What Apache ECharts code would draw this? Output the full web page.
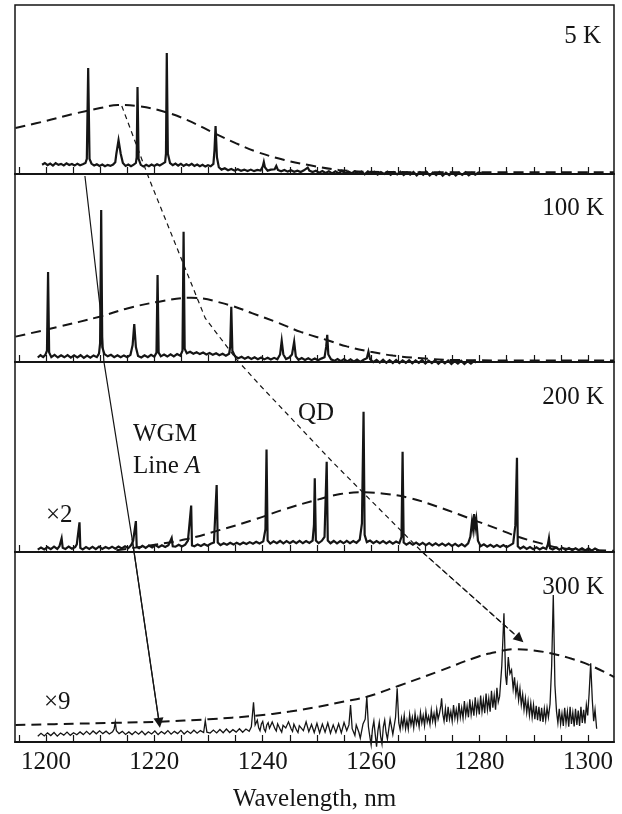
<!DOCTYPE html>
<html>
<head>
<meta charset="utf-8">
<script src="https://cdn.jsdelivr.net/npm/echarts@6/dist/echarts.min.js"></script>
<style>html,body{margin:0;padding:0;background:#fff}#c{width:622px;height:814px}</style>
</head>
<body>
<div id="c"></div>
<script>
const X_MIN = 1194.3, X_MAX = 1304.8;
const tickValues = [1195,1200,1205,1210,1215,1220,1225,1230,1235,1240,1245,1250,1255,1260,1265,1270,1275,1280,1285,1290,1295,1300];
const labelValues = [1200,1220,1240,1260,1280,1300];
const panelLabels = ['5 K','100 K','200 K','300 K'];

const spec5K = [[1199.3,5.5],[1199.8,6.5],[1200.3,5.2],[1200.8,6.2],[1201.3,5.0],[1201.8,6.4],[1202.3,5.4],[1202.8,6.0],[1203.3,5.1],[1203.8,6.3],[1204.3,5.3],[1204.8,5.9],[1205.3,5.0],[1205.8,6.1],[1206.3,5.2],[1206.8,5.8],[1207.3,6.5],
[1207.55,9],[1207.8,62.7],[1208.05,9],
[1208.4,6.2],[1208.9,5.0],[1209.4,5.8],[1209.9,4.8],[1210.4,5.6],[1210.9,4.6],[1211.4,5.4],[1211.9,4.8],[1212.4,5.6],[1212.8,7],
[1213.0,12],[1213.4,20],[1213.8,12],[1214.2,6.5],
[1214.7,4.8],[1215.2,5.6],[1215.7,4.6],[1216.2,5.5],[1216.6,6.5],
[1216.75,10],[1216.9,51.5],[1217.1,9],
[1217.5,5.4],[1218.0,4.4],[1218.5,5.4],[1219.0,4.6],[1219.5,5.6],[1220.0,4.8],[1220.5,5.8],[1221.0,5.0],[1221.5,6.0],[1222.0,7],
[1222.15,12],[1222.3,71.6],[1222.5,12],
[1222.9,6.5],[1223.4,5.2],[1223.9,6.2],[1224.4,5.0],[1224.9,6.0],[1225.4,4.8],[1225.9,5.8],[1226.4,5.0],[1226.9,6.0],[1227.4,4.8],[1227.9,5.6],[1228.4,4.6],[1228.9,5.4],[1229.4,4.4],[1229.9,5.2],[1230.4,4.6],[1230.9,6],
[1231.1,14],[1231.3,28.4],[1231.55,10],[1231.9,4.0],
[1232.4,2.6],[1233,3.4],[1233.6,2.2],[1234.2,3.0],[1234.8,2.0],[1235.4,2.8],[1236,1.9],[1236.6,2.6],[1237.2,1.8],[1237.8,2.6],[1238.4,1.7],[1239,2.4],[1239.6,2.0],
[1240.0,4.5],[1240.2,7.1],[1240.4,4.0],[1240.9,2.0],[1241.5,2.6],[1242.2,2.8],[1242.5,4.8],[1242.8,2.4],[1243.4,1.6],[1244,2.4],[1244.6,1.4],[1245.2,2.2],[1245.8,1.3],[1246.4,2.0],[1247,1.2],[1247.6,2.2],[1248.3,3.8],[1248.6,2.0],[1249.2,1.2],[1249.8,1.9],[1250.4,0.8],[1251,1.8],[1251.6,0.6],[1252.2,1.6],[1252.8,0.4],[1253.4,1.6],[1254,0.5],[1254.6,1.9],[1255.2,0.3],[1255.8,1.5],[1256.4,0.5],[1257,1.6],[1257.6,0.2],[1258.2,1.4],[1258.8,-0.2],[1259.4,1.5],[1260,0.2],[1260.6,1.3],[1261.2,-0.3],[1261.8,1.2],[1262.4,0.1],[1263,1.4],[1263.6,-0.5],[1264.2,1.1],[1264.8,-0.2],[1265.4,1.3],[1266,-0.6],[1266.6,1.0],[1267.2,-0.4],[1267.8,1.2],[1268.4,-0.8],[1269,1.1],[1269.6,-0.5],[1270.2,1.3],[1270.8,-0.9],[1271.4,0.9],[1272,-0.6],[1272.6,1.2],[1273.2,-1.0],[1273.8,0.8],[1274.4,-0.7],[1275,1.0],[1275.6,-0.9],[1276.2,0.8],[1276.8,-0.5],[1277.4,1.0],[1278,-0.8],[1278.6,0.7],[1279.2,-0.4],[1279.8,0.9],[1280.5,0.2]];

const spec100K = [[1198.5,2.4],[1199.0,3.6],[1199.5,2.6],[1199.9,3.8],[1200.2,6],[1200.4,47.9],[1200.6,5],[1201.0,2.6],[1201.6,3.8],[1202.2,2.4],[1202.8,3.6],[1203.4,2.5],[1204.0,3.7],[1204.6,2.3],[1205.2,3.5],[1205.8,2.4],[1206.4,3.6],[1207.0,2.2],[1207.6,3.4],[1208.2,2.3],[1208.8,3.5],[1209.4,2.6],[1209.8,4.5],[1210.0,10],[1210.2,80.9],[1210.4,8],[1210.8,4.2],[1211.4,3.0],[1212.0,3.8],[1212.6,2.6],[1213.2,3.6],[1213.8,2.5],[1214.4,3.5],[1215.0,2.6],[1215.6,3.8],[1216.0,9],[1216.3,20.2],[1216.6,8],[1217.0,3.2],[1217.6,2.4],[1218.2,3.6],[1218.8,2.6],[1219.4,3.8],[1220.0,2.8],[1220.4,5],[1220.6,46.3],[1220.8,5],[1221.2,3.0],[1221.8,4.0],[1222.4,2.9],[1223.0,4.1],[1223.6,3.0],[1224.2,4.2],[1224.8,3.3],[1225.2,6],[1225.4,69.3],[1225.6,7],[1226.0,4.6],[1226.6,5.4],[1227.2,4.4],[1227.8,5.2],[1228.4,4.2],[1229.0,5.0],[1229.6,4.0],[1230.2,4.8],[1230.8,3.8],[1231.4,4.6],[1232.0,3.6],[1232.6,4.4],[1233.2,3.4],[1233.8,4.4],[1234.0,8],[1234.2,29.4],[1234.4,6],[1234.9,3.0],[1235.5,2.0],[1236.1,2.8],[1236.7,1.7],[1237.3,2.6],[1237.9,1.6],[1238.5,2.5],[1239.1,1.5],[1239.7,2.4],[1240.3,1.4],[1240.9,2.3],[1241.5,1.3],[1242.1,2.2],[1242.7,1.4],[1243.2,4],[1243.5,11.3],[1243.8,4],[1244.3,1.6],[1244.9,2.4],[1245.4,4],[1245.8,10.8],[1246.1,3],[1246.6,1.2],[1247.2,2.1],[1247.8,1.1],[1248.4,2.0],[1249.0,1.0],[1249.6,1.9],[1250.2,0.9],[1250.8,1.8],[1251.4,2.5],[1251.7,8],[1251.9,14.4],[1252.1,4],[1252.6,1.4],[1253.2,0.6],[1253.8,1.6],[1254.4,0.4],[1255.0,1.5],[1255.6,0.3],[1256.2,1.4],[1256.8,0.2],[1257.4,1.3],[1258.0,0.1],[1258.6,1.2],[1259.2,2],[1259.5,5.5],[1259.8,1.5],[1260.4,-0.1],[1261.0,1.1],[1261.6,-0.3],[1262.2,1.2],[1262.8,-0.4],[1263.4,1.0],[1264.0,-0.5],[1264.6,1.1],[1265.2,-0.6],[1265.8,0.9],[1266.4,-0.4],[1267.0,1.0],[1267.6,-0.7],[1268.2,0.8],[1268.8,-0.5],[1269.4,1.0],[1270.0,-0.8],[1270.6,0.7],[1271.2,-0.6],[1271.8,0.9],[1272.4,-0.9],[1273.0,0.6],[1273.6,-0.7],[1274.2,0.8],[1274.8,-1.0],[1275.4,0.5],[1276.0,-0.8],[1276.6,0.7],[1277.2,-1.0],[1277.8,0.5],[1278.4,-0.8],[1279.0,0.6],[1279.4,-0.3]];

const spec200K = [[1198.5,1.2],[1199.1,2.4],[1199.7,1.4],[1200.3,2.6],[1200.9,1.5],[1201.5,2.8],[1202.1,1.6],[1202.5,3],[1202.9,7.2],[1203.1,2.2],[1203.6,1.6],[1204.2,2.8],[1204.8,1.7],[1205.4,2.6],[1205.7,4],[1206.2,15.6],[1206.35,2.2],[1206.8,1.4],[1207.4,2.6],[1208.0,1.6],[1208.6,2.7],[1209.2,1.5],[1209.8,2.8],[1210.4,1.6],[1211.0,2.6],[1211.6,1.8],[1212.2,2.8],[1212.8,1.7],[1213.4,2.9],[1214.0,1.9],[1214.6,3.0],[1215.2,2.0],[1215.7,3.5],[1216.1,6],[1216.6,16.3],[1216.75,2.8],[1217.2,2.0],[1217.8,3.2],[1218.4,2.2],[1219.0,3.4],[1219.6,2.4],[1220.2,3.6],[1220.8,2.5],[1221.4,3.5],[1222.0,2.6],[1222.6,3.6],[1222.9,4.5],[1223.2,7.4],[1223.4,3],[1223.9,2.8],[1224.5,3.8],[1225.1,2.9],[1225.7,3.9],[1226.2,6],[1226.8,24.4],[1226.95,3.4],[1227.4,3.0],[1228.0,4.0],[1228.6,3.2],[1229.2,4.2],[1229.8,3.3],[1230.4,4.3],[1231.0,5],[1231.5,35.3],[1231.7,5],[1232.2,3.6],[1232.8,4.6],[1233.4,3.8],[1234.0,4.8],[1234.6,3.9],[1235.2,4.9],[1235.8,4.0],[1236.4,5.0],[1237.0,4.2],[1237.6,5.2],[1238.2,4.4],[1238.8,5.4],[1239.4,4.5],[1240.1,5.6],[1240.5,12],[1240.7,54],[1240.9,6],[1241.4,4.4],[1242.0,5.6],[1242.6,4.6],[1243.2,5.8],[1243.8,4.5],[1244.4,5.7],[1245.0,4.6],[1245.6,5.8],[1246.2,4.7],[1246.8,5.9],[1247.4,4.6],[1248.0,5.8],[1248.6,4.8],[1249.2,6],[1249.45,14],[1249.6,38.8],[1249.8,6],[1250.3,4.7],[1250.9,5.9],[1251.4,8],[1251.8,47.5],[1252.0,6],[1252.5,4.6],[1253.1,5.8],[1253.7,4.5],[1254.3,5.7],[1254.9,4.6],[1255.5,5.9],[1256.1,4.7],[1256.7,5.8],[1257.3,4.8],[1257.9,6.5],[1258.3,15],[1258.6,73.8],[1258.8,9],[1259.2,5.2],[1259.8,6.0],[1260.4,4.7],[1261.0,5.8],[1261.6,4.6],[1262.2,5.7],[1262.8,4.5],[1263.4,5.6],[1264.0,4.4],[1264.6,5.5],[1265.2,4.6],[1265.6,8],[1265.8,52.8],[1266.0,5],[1266.5,3.9],[1267.1,5.0],[1267.7,3.8],[1268.3,4.9],[1268.9,3.7],[1269.5,4.8],[1270.1,3.6],[1270.7,4.7],[1271.3,3.5],[1271.9,4.6],[1272.5,3.4],[1273.1,4.5],[1273.7,3.3],[1274.3,4.4],[1274.9,3.2],[1275.5,4.3],[1276.1,3.1],[1276.7,4.2],[1277.3,3.0],[1277.9,4.5],[1278.3,8],[1278.6,16],[1278.8,12],[1279.0,20],[1279.2,13],[1279.4,17],[1279.7,6],[1280.2,3.0],[1280.8,4.0],[1281.4,2.8],[1282.0,3.8],[1282.6,2.7],[1283.2,3.7],[1283.8,2.6],[1284.4,3.6],[1285.0,2.5],[1285.6,3.5],[1286.2,4.5],[1286.6,14],[1286.9,49.6],[1287.05,3],[1287.5,1.8],[1288.1,2.8],[1288.7,1.6],[1289.3,2.6],[1289.9,1.5],[1290.5,2.5],[1291.1,1.4],[1291.7,2.4],[1292.3,1.6],[1292.6,4],[1292.8,7.2],[1293.0,2],[1293.5,1.3],[1294.1,2.3],[1294.7,1.2],[1295.3,2.2],[1295.9,1.1],[1296.5,2.1],[1297.1,1.0],[1297.7,2.0],[1298.3,0.9],[1298.9,2.0],[1299.5,0.8],[1300.1,1.9],[1300.7,0.7],[1301.3,1.8],[1302.0,0.8]];

const spec300K = [[1198.5,3.0],[1199.1,4.6],[1199.7,3.2],[1200.3,4.8],[1200.9,3.4],[1201.5,5.0],[1202.1,3.1],[1202.7,4.7],[1203.3,3.6],[1203.9,5.2],[1204.5,3.5],[1205.1,4.9],[1205.7,3.8],[1206.3,5.3],[1206.9,3.9],[1207.5,5.6],[1208.1,4.0],[1208.7,5.8],[1209.3,4.3],[1209.9,5.9],[1210.5,4.4],[1211.1,5.7],[1211.7,4.2],[1212.3,5.4],[1212.6,7],[1212.8,10.5],[1213.0,6],[1213.5,4.4],[1214.1,5.6],[1214.7,4.0],[1215.3,5.3],[1215.9,3.9],[1216.5,5.5],[1217.1,4.1],[1217.7,5.7],[1218.3,3.8],[1218.9,5.4],[1219.5,4.2],[1220.1,5.8],[1220.7,3.9],[1221.3,5.5],[1221.9,4.3],[1222.5,6.0],[1223.1,4.1],[1223.7,5.6],[1224.3,4.4],[1224.9,6.1],[1225.5,4.2],[1226.1,5.8],[1226.7,4.5],[1227.3,6.2],[1227.9,4.6],[1228.5,6.0],[1229.1,5.0],[1229.4,11.2],[1229.7,5.2],[1230.3,4.7],[1230.9,6.3],[1231.5,4.8],[1232.1,6.6],[1232.7,4.9],[1233.3,6.8],[1233.9,5.0],[1234.5,6.5],[1235.1,5.2],[1235.7,7.0],[1236.3,5.1],[1236.9,6.8],[1237.5,5.6],[1237.9,8],[1238.3,20.9],[1238.6,9],
[1239.0,11.5],[1239.25,7.5],[1239.5,6.0],[1239.75,9.5],[1240.0,10.8],[1240.25,6.8],[1240.5,5.5],[1240.75,9],[1241.0,10.2],[1241.25,7.2],[1241.5,6.2],[1241.75,10.5],[1242.0,11.0],[1242.25,7],[1242.5,5.8],[1242.75,9.6],[1243.0,10.4],[1243.25,6.5],[1243.5,5.2],[1243.75,8.8],[1244.0,9.8],[1244.25,7.4],[1244.5,6.4],[1244.75,10.6],[1245.0,11.2],[1245.25,6.8],[1245.5,5.6],[1245.75,9.4],[1246.0,10.0],[1246.25,6.2],[1246.5,5.0],[1246.75,8.6],[1247.0,9.6],[1247.5,6.0],[1248.0,10.6],[1248.5,5.4],[1249.0,9.2],[1249.5,5.0],[1250.0,9.8],[1250.5,4.8],[1251.0,9.4],[1251.5,5.2],[1252.0,10.0],[1252.5,4.6],[1253.0,9.0],[1253.5,5.0],[1254.0,9.6],[1254.5,4.8],[1255.0,10.2],[1255.5,6.0],[1255.9,9],[1256.2,19.5],[1256.5,7],[1257.0,3.5],[1257.25,9],[1257.5,10.0],[1257.75,5],[1258.0,2.0],[1258.5,9.5],[1258.9,12],[1259.2,23.8],[1259.5,8],[1259.75,3],[1260.0,-1.5],[1260.25,7],[1260.5,11.0],[1260.75,4],[1261.0,-2.5],[1261.25,6],[1261.5,10.4],[1261.75,3],[1262.0,-1.0],[1262.25,8],[1262.5,11.5],[1262.75,5],[1263.0,1.5],[1263.5,12.0],[1264.0,4.0],[1264.5,13],[1264.8,28.3],[1265.1,10],
[1265.35,6.5],[1265.6,12.5],[1265.85,8],[1266.1,14],[1266.35,7],[1266.6,11.5],[1266.85,6.8],[1267.1,14.5],[1267.35,9],[1267.6,13],[1267.85,7.5],[1268.1,15],[1268.35,9.5],[1268.6,12.8],[1268.85,8],[1269.1,15.5],[1269.35,10],[1269.6,14],[1269.85,8.6],[1270.1,16],[1270.35,10.5],[1270.6,13.5],[1270.85,9.2],[1271.1,16.8],[1271.35,11],[1271.6,15],[1271.85,9.8],[1272.1,17.2],[1272.35,12],[1272.6,15],[1272.85,19],[1273.0,23],[1273.2,15],[1273.45,11],[1273.7,17.5],[1273.95,10.5],[1274.2,18.5],[1274.45,12],[1274.7,16],[1274.95,11],[1275.2,19.5],[1275.45,12.5],[1275.7,17],[1275.95,11.8],[1276.2,20.5],[1276.45,13],[1276.7,18],[1276.95,12.5],[1277.2,21.5],[1277.45,14],[1277.7,19],[1277.95,13],[1278.2,22.5],[1278.45,14.5],[1278.7,20],[1278.95,13.8],[1279.2,23.5],[1279.45,15.5],[1279.7,21],[1279.95,14.5],[1280.2,24.5],[1280.45,16],[1280.7,22],[1280.95,15.2],[1281.2,25.5],[1281.45,17],[1281.7,23],[1281.95,16],[1282.2,27],[1282.45,18],[1282.7,24.5],[1282.95,17],[1283.2,28.5],[1283.45,21],[1283.7,24],[1284.1,40],[1284.5,67.7],[1284.8,35],[1285.0,30],[1285.3,44.7],[1285.6,36],[1285.9,38],
[1286.2,28],[1286.45,34],[1286.7,25],[1286.95,30],[1287.2,22],[1287.45,28],[1287.7,19.5],[1287.95,25],[1288.2,17],[1288.45,23],[1288.7,15.5],[1288.95,21.5],[1289.2,14],[1289.45,20.5],[1289.7,13],[1289.95,19.5],[1290.2,12],[1290.45,19],[1290.7,11.5],[1290.95,18.5],[1291.2,11],[1291.45,18],[1291.7,10.5],[1291.95,17.5],[1292.2,11.5],[1292.45,18],[1292.7,13],[1293.0,20],[1293.3,40],[1293.6,77.4],[1293.9,30],
[1294.2,16],[1294.45,10],[1294.7,17.5],[1294.95,9.5],[1295.2,15],[1295.45,8.5],[1295.7,18],[1295.95,10],[1296.2,16],[1296.45,8],[1296.7,18.5],[1296.95,9.5],[1297.2,15.5],[1297.45,8.2],[1297.7,17.5],[1297.95,9],[1298.2,16.5],[1298.45,8.5],[1298.7,18.5],[1298.95,10],[1299.2,17],[1299.45,9.8],[1299.7,19.5],[1299.95,14],[1300.2,25],[1300.5,41.4],[1300.8,22],[1301.05,11],[1301.3,17],[1301.6,7]];

const env5K = [[1194.4,27.2],[1200,31.4],[1205,35.5],[1210,39],[1213.3,40.8],[1217,40.2],[1222,36.7],[1226,32],[1231,24.3],[1235,18.3],[1239,13],[1244,8.3],[1248.5,5.3],[1254,2.4],[1260,1.3],[1270,1.1],[1285,1.1],[1304.8,1.1]];
const env100K = [[1194.4,13.5],[1202,18.5],[1209.9,24.1],[1215,28.5],[1220.9,32.1],[1226.8,34.2],[1233.8,30.3],[1238,26],[1243,20.7],[1247,16],[1251.8,11.7],[1255.5,8.3],[1259.9,5.5],[1264,3.4],[1268.7,2.1],[1275,1.1],[1290,0.8],[1304.8,0.8]];
const env200K = [[1213,0.9],[1216.5,2.3],[1219.8,3.7],[1226,6.8],[1232,11.5],[1238.2,16.8],[1244,22.5],[1250.3,27.7],[1254.3,30.5],[1258.5,31.4],[1262,30.8],[1267,28.5],[1272.3,23.8],[1276,20],[1279.7,16],[1283.5,12],[1287.1,8],[1291,4.8],[1294.4,2.3],[1299,1.2],[1304.8,0.7]];
const env300K = [[1194.4,8.9],[1205,9.6],[1213,10.1],[1221,10.7],[1230,12],[1238.6,13.8],[1245,16],[1250.3,18.6],[1255,21.3],[1259.2,23.8],[1265,29.5],[1272.3,37],[1279.7,44.9],[1283,47.3],[1286.4,48.8],[1290,48.2],[1293.7,46.3],[1297,43.8],[1300.3,40.5],[1304.8,34.2]];

// annotation paths on the full-height overlay (y: % of stack height from bottom)
const wgmPath = [[1207.2,76.8],[1210.2,57.7],[1210.7,51.6],[1215.9,27.6],[1220.9,2.6]];
const qdPath = [[1214.0,86.3],[1219.0,76.5],[1229.4,57.5],[1235.3,51.8],[1239.5,48.4],[1253.0,37.9],[1269.4,25.8],[1287.4,14.0]];

const spectra = [spec5K, spec100K, spec200K, spec300K];
const envelopes = [env5K, env100K, env200K, env300K];

const FONT = "'Liberation Serif','Times New Roman',serif";
const INK = '#151515';

const gridBoxes = [
  {top:5,height:169},{top:174,height:188},{top:362,height:190},{top:552,height:190},{top:5,height:737}
];
const grid = gridBoxes.map((g,i)=>({left:15,right:8,top:g.top,height:g.height,show:i<4,borderColor:INK,borderWidth:1.5,backgroundColor:'transparent'}));

const xAxis = gridBoxes.map((g,i)=>({
  gridIndex:i, type:'value', min:X_MIN, max:X_MAX, show:i<4,
  axisLine:{show:true,onZero:false,lineStyle:{color:INK,width:2}},
  axisTick:{show:true,inside:true,length:7,customValues:tickValues,lineStyle:{color:INK,width:1.2}},
  axisLabel:{show:i===3,customValues:labelValues,margin:8,color:INK,fontFamily:FONT,fontSize:25,formatter:v=>String(v)},
  splitLine:{show:false},
  name:i===3?'Wavelength, nm':'', nameLocation:'middle', nameGap:45,
  nameTextStyle:{color:INK,fontFamily:FONT,fontSize:25}
}));
const yAxis = gridBoxes.map((g,i)=>({gridIndex:i,type:'value',min:0,max:100,show:false}));

const series = [];
for (let i=0;i<4;i++){
  series.push({type:'line',xAxisIndex:i,yAxisIndex:i,data:envelopes[i],smooth:0.4,symbol:'none',clip:false,z:2,
    lineStyle:{color:INK,width:2,type:[10,6]}});
  series.push({type:'line',xAxisIndex:i,yAxisIndex:i,data:spectra[i],symbol:'none',clip:false,z:3,
    lineStyle:{color:INK,width:i===3?1.3:2.2,join:'miter'}});
}
series.push({type:'line',xAxisIndex:4,yAxisIndex:4,data:wgmPath,symbol:'none',clip:false,z:5,lineStyle:{color:INK,width:1.2}});
series.push({type:'line',xAxisIndex:4,yAxisIndex:4,data:qdPath,symbol:'none',clip:false,z:5,lineStyle:{color:INK,width:1.2,type:[5,4]}});
series.push({type:'lines',coordinateSystem:'cartesian2d',xAxisIndex:4,yAxisIndex:4,z:6,
  symbol:['none','triangle'],symbolSize:10,lineStyle:{color:INK,width:1.2,opacity:1},
  data:[{coords:[wgmPath[wgmPath.length-2],wgmPath[wgmPath.length-1]]},
        {coords:[qdPath[qdPath.length-2],qdPath[qdPath.length-1]],lineStyle:{type:[5,4]}}]});

function txt(text,x,y,align){
  return {type:'text',x:x,y:y,z:10,style:{text:text,fill:INK,fontFamily:FONT,fontSize:25,
    align:align,textAlign:align,verticalAlign:'middle',textVerticalAlign:'middle'}};
}
const graphic = [
  txt(panelLabels[0],601,36,'right'),
  txt(panelLabels[1],604,208,'right'),
  txt(panelLabels[2],604,397,'right'),
  txt(panelLabels[3],604,587,'right'),
  txt('QD',298,413,'left'),
  txt('WGM',133,434,'left'),
  {type:'text',x:133,y:466,z:10,style:{text:'Line {i|A}',fill:INK,fontFamily:FONT,fontSize:25,align:'left',textAlign:'left',verticalAlign:'middle',textVerticalAlign:'middle',
    rich:{i:{fontStyle:'italic',fontFamily:FONT,fontSize:25,fill:INK}}}},
  txt('\u00d72',46,515,'left'),
  txt('\u00d79',44,702,'left')
];

const chart = echarts.init(document.getElementById('c'),null,{renderer:'canvas'});
chart.setOption({animation:false,backgroundColor:'#fff',grid,xAxis,yAxis,series,graphic});
</script>
</body>
</html>
